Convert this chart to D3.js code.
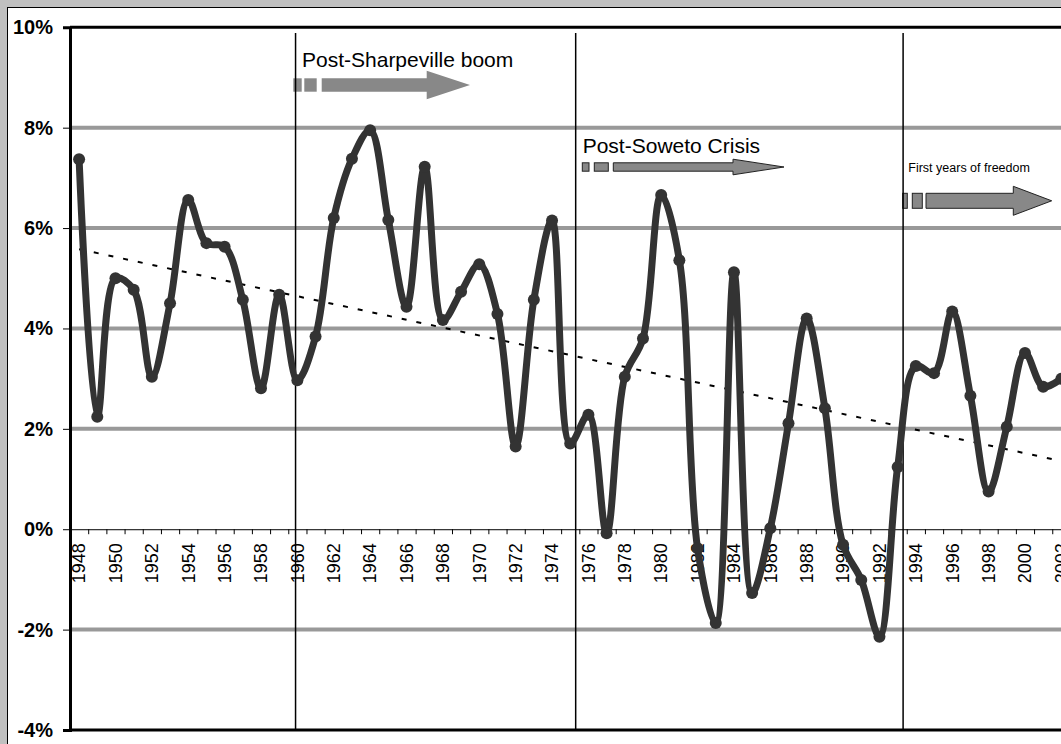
<!DOCTYPE html>
<html><head><meta charset="utf-8">
<script src="https://cdn.jsdelivr.net/npm/d3@7"></script>
<style>body{margin:0;background:#c0c0c0;overflow:hidden}svg{display:block}</style>
</head><body><svg id="c" width="1061" height="744"></svg>
<script>
// ---- data ----
const years = [1948,1949,1950,1951,1952,1953,1954,1955,1956,1957,1958,1959,1960,1961,1962,1963,1964,1965,1966,1967,1968,1969,1970,1971,1972,1973,1974,1975,1976,1977,1978,1979,1980,1981,1982,1983,1984,1985,1986,1987,1988,1989,1990,1991,1992,1993,1994,1995,1996,1997,1998,1999,2000,2001,2002];
const growth = [7.37,2.24,5.00,4.77,3.04,4.50,6.56,5.70,5.63,4.57,2.81,4.67,2.97,3.84,6.20,7.38,7.95,6.16,4.43,7.22,4.17,4.73,5.28,4.29,1.65,4.57,6.15,1.71,2.28,-0.08,3.04,3.80,6.66,5.36,-0.38,-1.87,5.12,-1.27,0.02,2.11,4.20,2.41,-0.31,-1.01,-2.14,1.24,3.25,3.11,4.34,2.66,0.75,2.04,3.51,2.84,3.00];
const yTicks = [10,8,6,4,2,0,-2,-4];
const gridValues = [8,6,4,2,-2];
const labelYears = [1948,1950,1952,1954,1956,1958,1960,1962,1964,1966,1968,1970,1972,1974,1976,1978,1980,1982,1984,1986,1988,1990,1992,1994,1996,1998,2000,2002];
const eventYears = [1959.9, 1975.3, 1993.3];
const trendYears = [1948, 2003];
const trendValues = [5.58, 1.28];
const annotations = [
  {text:"Post-Sharpeville boom", tx:302, ty:66.7, size:21, outline:false,
   rects:[[293.3,301.7],[304.3,316.7]], x0:321.7, xh:426.7, xt:470, yc:85, bh:6.7, hh:14.2},
  {text:"Post-Soweto Crisis", tx:582.7, ty:153.3, size:21, outline:true,
   rects:[[582.3,589],[594.3,608.3]], x0:613.3, xh:733, xt:784, yc:167, bh:4.2, hh:7.8},
  {text:"First years of freedom", tx:908.3, ty:171.7, size:12.5, outline:true,
   rects:[[902.7,907.3],[912.3,922.3]], x0:926, xh:1013.3, xt:1051.7, yc:200.8, bh:7.5, hh:14.5}
];

// ---- layout ----
const svg = d3.select("#c");
const font = "'Liberation Sans', Arial, sans-serif";
const catW = 18.19;
const plotLeft = 70, plotTop = 27.3, plotBottom = 730;
const x = d3.scaleLinear().domain([1947.5, 2005.5]).range([plotLeft, plotLeft + 58*catW]);
const y = d3.scaleLinear().domain([-4, 10]).range([plotBottom, plotTop]);

svg.append("rect").attr("width",1061).attr("height",744).attr("fill","#c0c0c0");
svg.append("rect").attr("x",7.5).attr("y",7.5).attr("width",1200).attr("height",900)
  .attr("fill","#fff").attr("stroke","#000").attr("stroke-width",1);

// gridlines
svg.append("g").selectAll("line").data(gridValues).join("line")
  .attr("x1",plotLeft).attr("x2",1100).attr("y1",d=>y(d)).attr("y2",d=>y(d))
  .attr("stroke","#999").attr("stroke-width",4);

// annotations arrows (behind event lines)
const ag = svg.append("g");
annotations.forEach(a=>{
  const st = a.outline ? "#222" : "none";
  a.rects.forEach(r=>{
    ag.append("rect").attr("x",r[0]).attr("y",a.yc-a.bh).attr("width",r[1]-r[0]).attr("height",2*a.bh)
      .attr("fill","#888").attr("stroke",st).attr("stroke-width",1);
  });
  const p = `M${a.x0},${a.yc-a.bh}L${a.xh},${a.yc-a.bh}L${a.xh},${a.yc-a.hh}L${a.xt},${a.yc}L${a.xh},${a.yc+a.hh}L${a.xh},${a.yc+a.bh}L${a.x0},${a.yc+a.bh}Z`;
  ag.append("path").attr("d",p).attr("fill","#888").attr("stroke",st).attr("stroke-width",1);
  ag.append("text").attr("x",a.tx).attr("y",a.ty).attr("font-family",font).attr("font-size",a.size)
    .attr("fill","#000").text(a.text);
});

// event lines
svg.append("g").selectAll("line").data(eventYears).join("line")
  .attr("x1",d=>x(d)).attr("x2",d=>x(d)).attr("y1",33).attr("y2",plotBottom)
  .attr("stroke","#000").attr("stroke-width",1.5);

// zero axis with ticks
const xAxis = d3.axisBottom(x).tickValues(d3.range(1947.5, 2006, 1)).tickSize(5).tickFormat("");
const xg = svg.append("g").attr("transform",`translate(0,${y(0)})`).call(xAxis);
xg.select(".domain").attr("stroke","#000").attr("stroke-width",1);
xg.selectAll(".tick line").attr("stroke","#000").attr("stroke-width",1);
svg.append("g").selectAll("text").data(labelYears).join("text")
  .attr("transform",d=>`translate(${x(d)},${y(0)+14}) rotate(-90)`)
  .attr("text-anchor","end").attr("dy","0.35em")
  .attr("font-family",font).attr("font-size",18).attr("fill","#000").text(d=>d);

// plot border
svg.append("line").attr("x1",plotLeft).attr("x2",1100).attr("y1",plotTop).attr("y2",plotTop).attr("stroke","#000").attr("stroke-width",3);
svg.append("line").attr("x1",plotLeft).attr("x2",1100).attr("y1",plotBottom).attr("y2",plotBottom).attr("stroke","#000").attr("stroke-width",3);

// y axis
const yAxis = d3.axisLeft(y).tickValues(yTicks).tickSize(7).tickFormat(d=>d+"%");
const yg = svg.append("g").attr("transform",`translate(${plotLeft},0)`).call(yAxis);
yg.select(".domain").attr("stroke","#000").attr("stroke-width",3);
yg.selectAll(".tick line").attr("stroke","#000").attr("stroke-width",1);
yg.selectAll(".tick text").attr("font-family",font).attr("font-size",20).attr("font-weight","bold")
  .attr("fill","#000").attr("x",-17);

// trend line
svg.append("line").attr("x1",x(trendYears[0])).attr("y1",y(trendValues[0]))
  .attr("x2",x(trendYears[1])).attr("y2",y(trendValues[1]))
  .attr("stroke","#000").attr("stroke-width",2).attr("stroke-dasharray","5,10");

// series
const pts = years.map((yr,i)=>[yr, growth[i]]);
const line = d3.line().x(d=>x(d[0])).y(d=>y(d[1])).curve(d3.curveCatmullRom.alpha(0.5));
svg.append("path").datum(pts).attr("d",line).attr("fill","none")
  .attr("stroke","#333").attr("stroke-width",7).attr("stroke-linejoin","round");
svg.append("g").selectAll("circle").data(pts).join("circle")
  .attr("cx",d=>x(d[0])).attr("cy",d=>y(d[1])).attr("r",6).attr("fill","#333");
</script></body></html>
